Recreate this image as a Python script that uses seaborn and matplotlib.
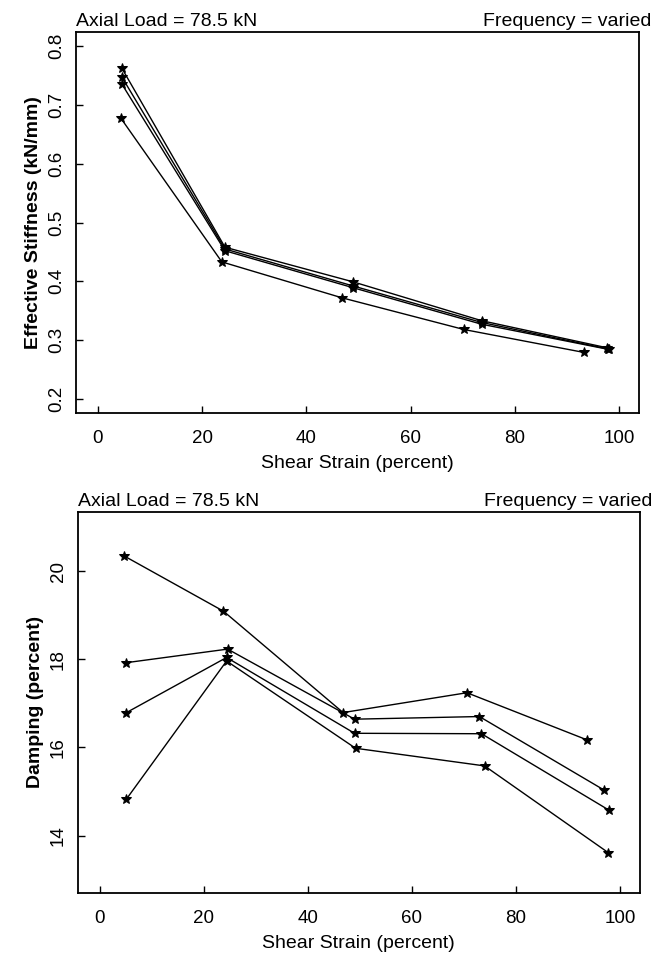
import matplotlib
matplotlib.use('Agg')
import matplotlib.pyplot as plt
import seaborn as sns
import pandas as pd
import numpy as np

# stiffness panel (4 test series)
stiff_x = [
    [4.6, 24.4, 49.0, 73.6, 97.6],
    [4.6, 24.4, 49.0, 73.6, 97.8],
    [4.6, 24.4, 49.0, 73.6, 98.0],
    [4.4, 23.8, 46.8, 70.2, 93.2],
]
stiff_y = [
    [0.763, 0.458, 0.399, 0.333, 0.287],
    [0.748, 0.455, 0.392, 0.330, 0.285],
    [0.736, 0.452, 0.389, 0.327, 0.284],
    [0.678, 0.433, 0.372, 0.318, 0.279],
]

# damping panel
damp_x = [
    [4.6, 23.8, 46.8, 70.6, 93.7],
    [5.0, 24.6, 49.0, 73.0, 97.0],
    [5.0, 24.4, 49.0, 73.4, 98.0],
    [5.1, 24.4, 49.2, 74.0, 97.8],
]
damp_y = [
    [20.35, 19.09, 16.79, 17.24, 16.17],
    [17.92, 18.23, 16.64, 16.70, 15.03],
    [16.78, 18.04, 16.32, 16.31, 14.57],
    [14.82, 17.96, 15.98, 15.58, 13.61],
]

title_left = 'Axial Load = 78.5 kN'
title_right = 'Frequency = varied'
xlab = 'Shear Strain (percent)'


def make_df(xs, ys):
    rows = []
    for k in range(len(xs)):
        for a, b in zip(xs[k], ys[k]):
            rows.append({'series': k, 'x': a, 'y': b})
    return pd.DataFrame(rows)


sns.set_style('white')
plt.rcParams['font.family'] = ['Liberation Sans', 'DejaVu Sans']
plt.rcParams['font.size'] = 13
plt.rcParams['text.color'] = 'black'
plt.rcParams['axes.labelcolor'] = 'black'

fig = plt.figure(figsize=(6.54, 9.58), dpi=100)
ax1 = fig.add_axes([0.116, 0.569, 0.861, 0.398])
ax2 = fig.add_axes([0.119, 0.068, 0.859, 0.398])

panels = [
    (ax1, make_df(stiff_x, stiff_y), 'Effective Stiffness (kN/mm)', (0.176, 0.825), np.arange(0.2, 0.81, 0.1), '{:.1f}'),
    (ax2, make_df(damp_x, damp_y), 'Damping (percent)', (12.7, 21.35), [14, 16, 18, 20], '{:d}'),
]

for ax, df, ylab, ylim, yt, fmt in panels:
    sns.lineplot(data=df, x='x', y='y', units='series', estimator=None, sort=False,
                 color='black', lw=1.0, marker='*', markersize=7,
                 markeredgecolor='black', ax=ax)
    ax.set_xlim(-4.2, 103.8)
    ax.set_ylim(*ylim)
    ax.set_xticks([0, 20, 40, 60, 80, 100])
    ax.set_yticks(yt)
    ax.set_yticklabels([fmt.format(v) for v in yt], rotation=90, va='center')
    ax.set_xlabel(xlab, fontsize=14, labelpad=6)
    ax.set_ylabel(ylab, fontsize=14, fontweight='bold', labelpad=4)
    ax.tick_params(direction='in', length=5, width=1, colors='black', labelsize=13.5,
                   bottom=True, left=True)
    ax.tick_params(axis='x', pad=12)
    ax.tick_params(axis='y', pad=8)
    for s in ax.spines.values():
        s.set_color('black')
        s.set_linewidth(1.3)
    ax.text(0.0, 1.004, title_left, transform=ax.transAxes, ha='left', va='bottom', fontsize=14)
    ax.text(1.022, 1.004, title_right, transform=ax.transAxes, ha='right', va='bottom', fontsize=14)

fig.savefig('out.png', dpi=100)
